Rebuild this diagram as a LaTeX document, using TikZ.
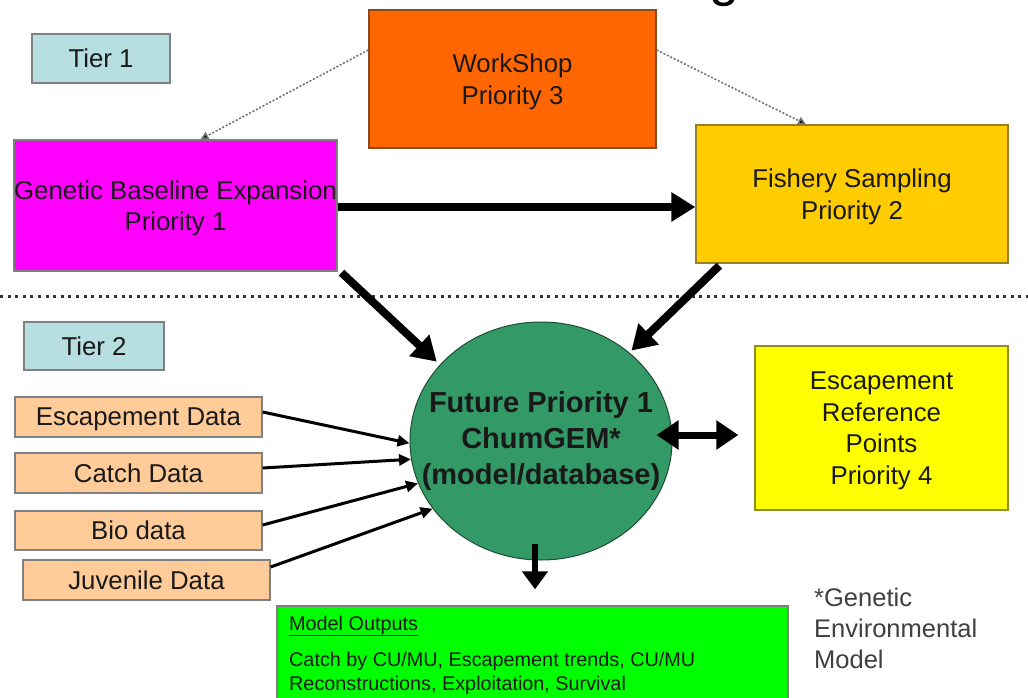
\documentclass[tikz,border=0pt]{standalone}
\usepackage{fontspec}
\setmainfont{Liberation Sans}
\usetikzlibrary{shapes.geometric,arrows.meta}
\definecolor{tierc}{HTML}{B7DEE0}
\definecolor{wsc}{HTML}{FF6600}
\definecolor{wsb}{HTML}{8B4A1C}
\definecolor{genc}{HTML}{FF00FF}
\definecolor{fishc}{HTML}{FFCC00}
\definecolor{fishb}{HTML}{9C7E1E}
\definecolor{circc}{HTML}{339966}
\definecolor{circb}{HTML}{1E4D33}
\definecolor{yelc}{HTML}{FFFF00}
\definecolor{yelb}{HTML}{8F8F1E}
\definecolor{datac}{HTML}{FFCC99}
\definecolor{grnc}{HTML}{00FF00}
\definecolor{boxb}{HTML}{808080}
\definecolor{notec}{HTML}{404040}
\tikzset{
  box/.style={draw=boxb, line width=1.3pt, inner sep=0pt, align=center, text depth=-2.5pt,
    font=\fontsize{25.8}{31.5}\selectfont, text=black!90},
  bold/.style={line width=8pt, -{Triangle[length=24pt,width=28pt]}},
  dbl/.style={line width=7pt, {Triangle[length=22pt,width=28pt]}-{Triangle[length=22pt,width=28pt]}},
  thin/.style={line width=3pt, -{Triangle[length=12pt,width=11pt]}},
  dotarrow/.style={draw=black!55, line width=1.6pt, dash pattern=on 2pt off 1.8pt, -{Triangle[length=8pt,width=8pt,fill=black]}},
}
\begin{document}
\begin{tikzpicture}[x=1pt,y=-1pt]
\useasboundingbox (0,0) rectangle (1028,698);
\fill[white] (0,0) rectangle (1028,698);
% title fragment
\node[anchor=base, inner sep=0pt, font=\fontsize{54}{60}\selectfont] (ttl) at (725,-4) {g};
% separator
\draw[line width=3pt, draw=black!80, dash pattern=on 3pt off 4.6pt] (0,296) -- (1028,296);
% nodes
\node[box, fill=tierc, minimum width=138pt, minimum height=49pt] (t1) at (101,58.5) {Tier 1};
\node[box, fill=wsc, draw=wsb, minimum width=287pt, minimum height=138pt] (ws) at (512.5,79) {WorkShop\\Priority 3};
\node[box, fill=genc, minimum width=321pt, minimum height=131pt] (gen) at (175.5,205.5) {Genetic Baseline Expansion\\Priority 1};
\node[box, fill=fishc, draw=fishb, minimum width=312pt, minimum height=138pt] (fish) at (852,194) {Fishery Sampling\\Priority 2};
\node[box, fill=tierc, minimum width=140pt, minimum height=48pt] (t2) at (94,346) {Tier 2};
\node[ellipse, draw=circb, line width=1pt, fill=circc, minimum width=262pt, minimum height=238pt, inner sep=0pt] (circ) at (541,441) {};
\node[inner sep=0pt, align=center, font=\fontsize{29}{36}\selectfont\bfseries, text=black!90] (circt) at (circ.center) {Future Priority 1\\ChumGEM*\\(model/database)};
\node[box, fill=yelc, draw=yelb, minimum width=253pt, minimum height=164pt] (esc) at (881.5,428) {Escapement\\Reference\\Points\\Priority 4};
\node[box, fill=datac, minimum width=247pt, minimum height=40pt] (ed) at (138.5,417) {Escapement Data};
\node[box, fill=datac, minimum width=247pt, minimum height=40pt] (cd) at (138.5,473) {Catch Data};
\node[box, fill=datac, minimum width=247pt, minimum height=39pt] (bd) at (138.5,530.5) {Bio data};
\node[box, fill=datac, minimum width=247pt, minimum height=40pt] (jd) at (146.5,580) {Juvenile Data};
\node[box, fill=grnc, minimum width=511pt, minimum height=100pt] (mo) at (532.5,656) {};
\node[anchor=west, inner sep=0pt, font=\fontsize{19.8}{24}\selectfont, text=black!90] (mot) at (289,626) {\underline{Model Outputs}};
\node[anchor=north west, inner sep=0pt, align=left, font=\fontsize{19.8}{24}\selectfont, text=black!90] (mob) at (289,652) {Catch by CU/MU, Escapement trends, CU/MU\\Reconstructions, Exploitation, Survival};
\node[anchor=north west, inner sep=0pt, align=left, font=\fontsize{25.5}{31}\selectfont, text=notec] (note) at (814,588) {*Genetic\\Environmental\\Model};
% connectors
\draw[dotarrow] ([yshift=29pt]ws.west) -- ([xshift=25pt]gen.north);
\draw[dotarrow] ([yshift=29pt]ws.east) -- ([xshift=-46pt]fish.north);
\draw[bold] ([yshift=-1.5pt]gen.east) -- ([yshift=-1.5pt]gen.east -| fish.west);
\draw[bold] ([shift={(4pt,-1pt)}]gen.south east) -- ([shift={(-3pt,3pt)}]circ.143);
\draw[bold] ([shift={(24pt,-2pt)}]fish.south west) -- ([shift={(2pt,2pt)}]circ.45);
\draw[dbl] ([shift={(-16pt,6pt)}]circ.east) -- ([shift={(-16pt,6pt)}]circ.east -| esc.west);
\draw[line width=6.5pt, -{Triangle[length=18pt,width=25pt]}] ([shift={(-6pt,17pt)}]circ.south) -- ([shift={(-6pt,16pt)}]circ.south |- mo.north);
\draw[thin] ([yshift=5pt]ed.east) -- (circ.181);
\draw[thin] ([yshift=5pt]cd.east) -- (circ.188);
\draw[thin] ([yshift=5.5pt]bd.east) -- (circ.199);
\draw[thin] ([yshift=13pt]jd.east) -- (circ.212);
\end{tikzpicture}
\end{document}
